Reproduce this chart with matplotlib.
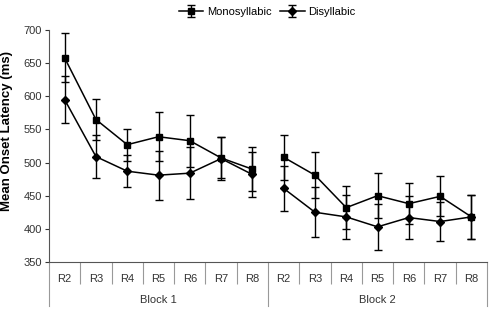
import matplotlib
matplotlib.use('Agg')
import matplotlib.pyplot as plt
import matplotlib.transforms as transforms

plt.rcParams['font.family'] = ['Liberation Sans', 'DejaVu Sans']

rounds = ['R2', 'R3', 'R4', 'R5', 'R6', 'R7', 'R8']
blocks = ['Block 1', 'Block 2']

mono_b1 = [658, 565, 527, 539, 533, 507, 490]
mono_b1_err = [37, 31, 24, 37, 39, 31, 33]
di_b1 = [595, 509, 487, 481, 484, 506, 482]
di_b1_err = [36, 32, 24, 37, 39, 32, 34]

mono_b2 = [508, 481, 432, 450, 438, 449, 418]
mono_b2_err = [34, 35, 33, 34, 31, 30, 33]
di_b2 = [461, 425, 418, 403, 417, 411, 418]
di_b2_err = [34, 38, 33, 35, 32, 30, 33]

fig = plt.figure(figsize=(4.9, 3.1), dpi=100)
ax = fig.add_axes([0.1, 0.155, 0.894, 0.748])

n = len(rounds)
x1 = list(range(n))
x2 = [i + n for i in range(n)]

style = dict(color='black', ecolor='black', elinewidth=1.0, capsize=2.6,
             capthick=1.0, linewidth=1.1)
for x, y, e in [(x1, mono_b1, mono_b1_err), (x2, mono_b2, mono_b2_err)]:
    ax.errorbar(x, y, yerr=e, marker='s', markersize=5, zorder=3,
                label='Monosyllabic' if x == x1 else None, **style)
for x, y, e in [(x1, di_b1, di_b1_err), (x2, di_b2, di_b2_err)]:
    ax.errorbar(x, y, yerr=e, marker='D', markersize=4, zorder=3,
                label='Disyllabic' if x == x1 else None, **style)

ax.set_xlim(-0.5, 2 * n - 0.5)
ax.set_ylim(350, 700)
ax.set_yticks(range(350, 701, 50))
ax.tick_params(axis='y', labelsize=8, length=3, width=0.8, colors='#333333',
               labelcolor='#333333', pad=2)

# category axis
ax.set_xticks(x1 + x2)
ax.set_xticklabels(rounds + rounds, fontsize=8, color='#333333')
ax.tick_params(axis='x', which='major', length=0, pad=9)
ax.set_xticks([i + 0.5 for i in range(2 * n - 1) if i != n - 1], minor=True)
ax.tick_params(axis='x', which='minor', length=16, width=0.8, color='#999999')

trans = transforms.blended_transform_factory(ax.transData, ax.transAxes)
for xb in [-0.5, n - 0.5, 2 * n - 0.5]:
    ax.plot([xb, xb], [0, -0.19], transform=trans, color='#999999',
            linewidth=0.8, clip_on=False)
for i, b in enumerate(blocks):
    ax.text(i * n + (n - 1) / 2, -0.165, b, transform=trans, ha='center',
            va='center', fontsize=8, color='#333333')

for s in ['top', 'right']:
    ax.spines[s].set_visible(False)
ax.spines['left'].set_color('#555555')
ax.spines['bottom'].set_color('#555555')
ax.spines['left'].set_linewidth(0.8)
ax.spines['bottom'].set_linewidth(0.8)

ax.set_ylabel('Mean Onset Latency (ms)', fontsize=9.5, fontweight='bold')
ax.yaxis.set_label_coords(-0.083, 0.565)

fig.legend(loc='upper center', bbox_to_anchor=(0.545, 1.01), ncol=2,
           frameon=False, fontsize=8, handlelength=2.2, columnspacing=0.8,
           handletextpad=0.3)

fig.savefig('out.png', dpi=100)
